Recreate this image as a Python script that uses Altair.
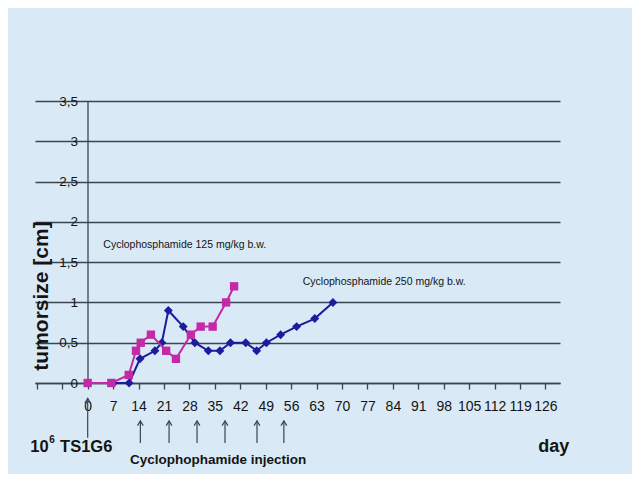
import altair as alt
import pandas as pd

# ---- data ----
series_names = ["Cyclophosphamide 125 mg/kg", "Cyclophosphamide 250 mg/kg"]
days_125 = [0, 6.5, 11.3, 13.3, 14.6, 17.4, 21.6, 24.3, 28.4, 31.1, 34.4, 38.1, 40.3]
size_125 = [0, 0, 0.1, 0.4, 0.5, 0.6, 0.4, 0.3, 0.6, 0.7, 0.7, 1.0, 1.2]
days_250 = [7.1, 11.4, 14.4, 18.5, 20.4, 22.2, 26.3, 29.5, 33.2, 36.4, 39.3, 43.5,
            46.5, 49.2, 53.1, 57.5, 62.5, 67.5]
size_250 = [0, 0, 0.3, 0.4, 0.5, 0.9, 0.7, 0.5, 0.4, 0.4, 0.5, 0.5, 0.4, 0.5,
            0.6, 0.7, 0.8, 1.0]
x_ticks = list(range(-14, 127, 7))
y_ticks = [0, 0.5, 1, 1.5, 2, 2.5, 3, 3.5]
injection_days = [14.5, 22.4, 30.1, 37.8, 46.6, 54.0]
tumor_day = [0]

BG = "#d9eaf6"
MAGENTA = "#c42aa8"
BLUE = "#1c1c9c"
GRID = "#3b4550"
TXT = "#141414"
FONT = "Liberation Sans, Arial, sans-serif"

df = pd.DataFrame(
    [{"series": series_names[0], "day": d, "size": v} for d, v in zip(days_125, size_125)]
    + [{"series": series_names[1], "day": d, "size": v} for d, v in zip(days_250, size_250)]
)

xs = alt.Scale(domain=[-14.5, 130], nice=False, zero=False)
ys = alt.Scale(domain=[0, 3.5], nice=False, zero=False)

x_axis = alt.Axis(
    values=x_ticks, labelExpr="datum.value < 0 ? '' : datum.label", grid=False,
    tickSize=6, tickColor=GRID, tickWidth=1.3, domainColor=GRID, domainWidth=1.6,
    labelFont=FONT, labelFontSize=14, labelColor=TXT, labelPadding=10, title=None,
    labelOverlap=False,
)
y_axis = alt.Axis(
    values=y_ticks, labelExpr="replace(format(datum.value, '.1~f'), '.', ',')",
    grid=True, gridColor=GRID, gridWidth=1.6, gridOpacity=1, offset=-52.5,
    tickSize=0, labelPadding=10, domainColor=GRID, domainWidth=1.3,
    labelFont=FONT, labelFontSize=13.5, labelColor=TXT, title=None, labelOverlap=False,
)


def X(field="day"):
    return alt.X(f"{field}:Q", scale=xs, axis=x_axis)


def Y(field="size"):
    return alt.Y(f"{field}:Q", scale=ys, axis=y_axis)


base = alt.Chart(df)


def series_layers(name, color, shape, size):
    sel = base.transform_filter(alt.datum.series == name)
    line = sel.mark_line(color=color, strokeWidth=2).encode(x=X(), y=Y())
    pts = sel.mark_point(color=color, shape=shape, filled=True, opacity=1, size=size).encode(
        x=X(), y=Y()
    )
    return [line, pts]


layers = series_layers(series_names[1], BLUE, "diamond", 80) + series_layers(
    series_names[0], MAGENTA, "square", 70
)

# annotations in data coordinates
ann = pd.DataFrame({
    "day": [4.3, 59.2],
    "size": [1.71, 1.25],
    "label": ["Cyclophosphamide 125 mg/kg  b.w.", "Cyclophosphamide 250 mg/kg  b.w."],
})
ann_text = alt.Chart(ann).mark_text(
    align="left", baseline="middle", font=FONT, fontSize=10.5, color=TXT
).encode(x=X(), y=Y(), text="label:N")

ytitle = alt.Chart(pd.DataFrame({"day": [-12.6], "size": [1.08], "t": ["tumorsize [cm]"]})).mark_text(
    angle=270, align="center", baseline="middle", font=FONT, fontWeight="bold", fontSize=21, color=TXT
).encode(x=X(), y=Y(), text="t:N")

bottom = pd.DataFrame({
    "day": [-15.8, -10.6, -7.6, 35.9, 128.3],
    "size": [-0.79, -0.71, -0.79, -0.95, -0.79],
    "t": ["10", "6", "TS1G6", "Cyclophophamide injection", "day"],
    "fs": [16.5, 10, 16.5, 13.5, 18],
    "al": ["left", "left", "left", "center", "center"],
})
bottom_left = alt.Chart(bottom).transform_filter(alt.datum.al == "left").mark_text(
    align="left", baseline="middle", font=FONT, fontWeight="bold", color=TXT, clip=False
).encode(x=X(), y=Y(), text="t:N", size=alt.Size("fs:Q", scale=None, legend=None))
bottom_center = alt.Chart(bottom).transform_filter(alt.datum.al == "center").mark_text(
    align="center", baseline="middle", font=FONT, fontWeight="bold", color=TXT, clip=False
).encode(x=X(), y=Y(), text="t:N", size=alt.Size("fs:Q", scale=None, legend=None))

# arrows
arr = pd.DataFrame({"day": injection_days, "top": [-0.47] * 6, "bot": [-0.745] * 6})
arr0 = pd.DataFrame({"day": tumor_day, "top": [-0.19], "bot": [-0.68]})
arrows_all = pd.concat([arr, arr0], ignore_index=True)
shafts = alt.Chart(arrows_all).mark_rule(color=GRID, strokeWidth=1.2, clip=False).encode(
    x=X(), y=Y("top"), y2="bot:Q"
)
heads = alt.Chart(arrows_all).mark_point(
    shape="M-0.6,1L0,0L0.6,1", filled=False, color=GRID, strokeWidth=1.2, size=90, opacity=1, clip=False
).encode(x=X(), y=Y("top"))

chart = alt.layer(*layers, ann_text, ytitle, bottom_left, bottom_center, shafts, heads).properties(
    width=525,
    height=282,
    background=BG,
    autosize=alt.AutoSizeParams(type="none"),
    padding={"left": 27, "top": 93, "right": 72, "bottom": 91},
).configure_view(stroke=None)

chart.save("out.html", embed_options={"renderer": "svg", "actions": False})
